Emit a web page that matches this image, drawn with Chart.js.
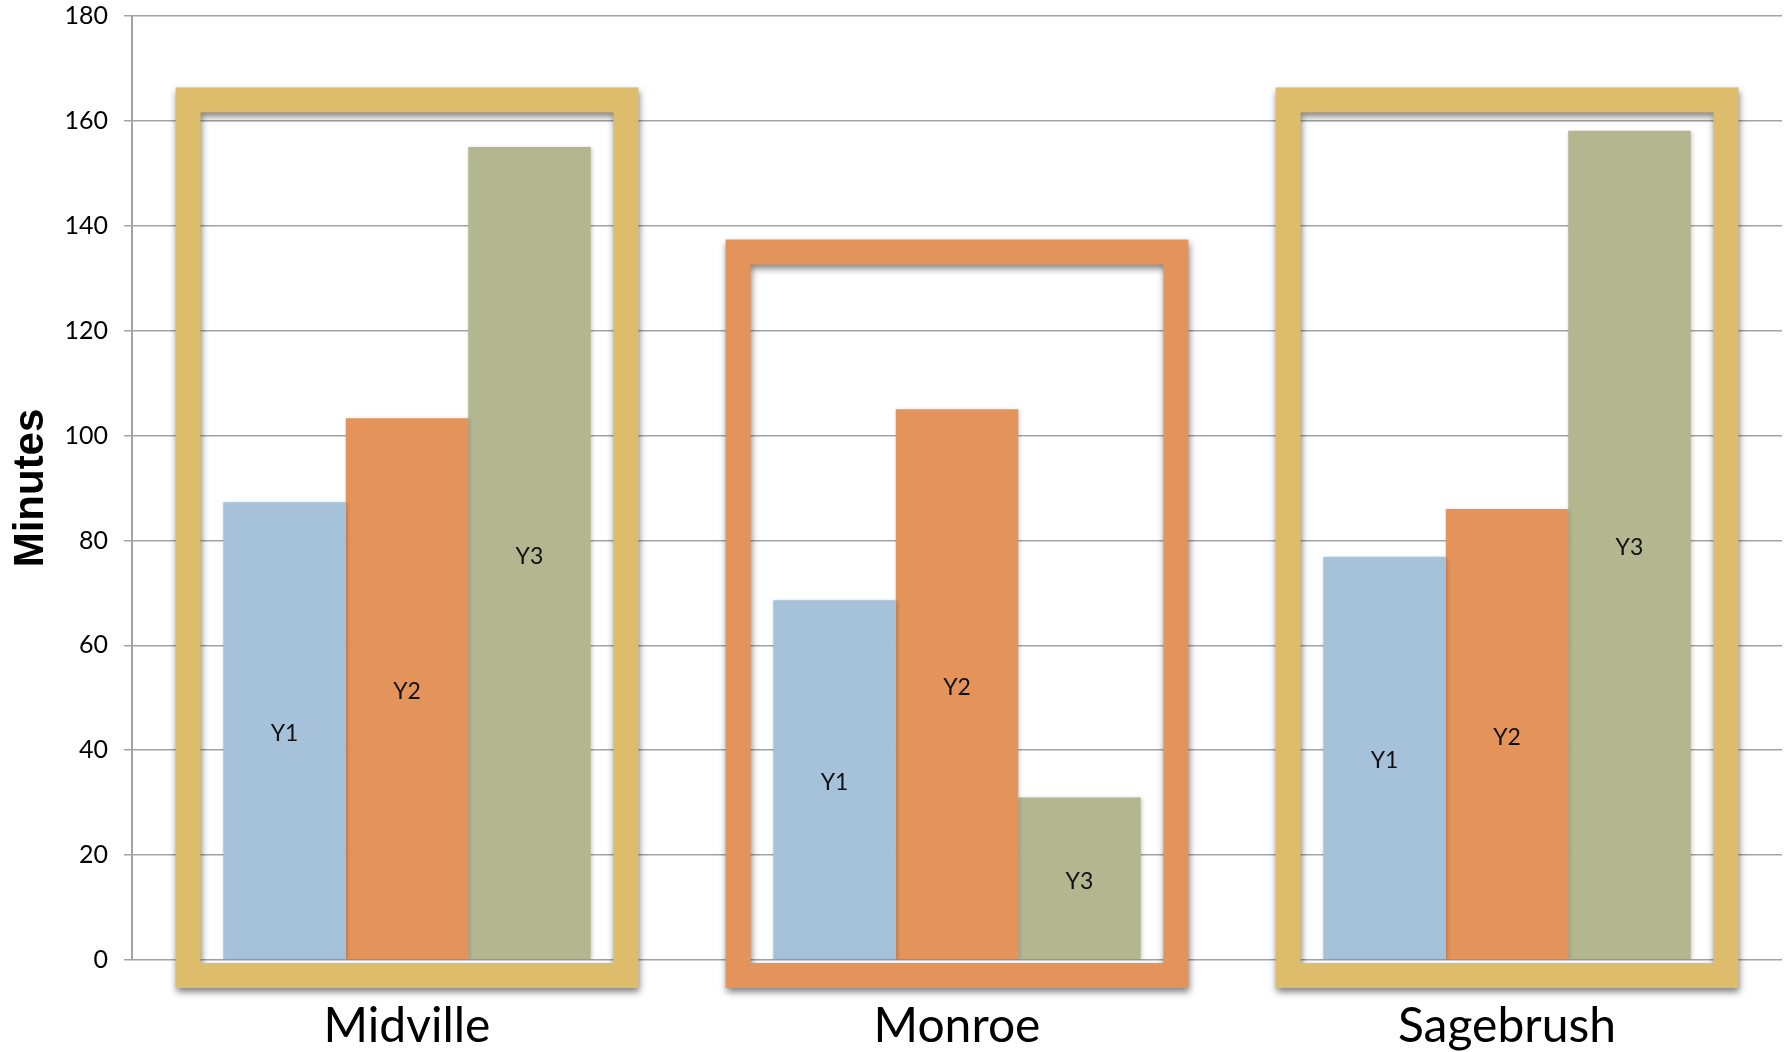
<!DOCTYPE html>
<html>
<head>
<meta charset="utf-8">
<script src="https://cdn.jsdelivr.net/npm/chart.js@4.4.1/dist/chart.umd.min.js"></script>
<style>
  html, body { margin: 0; padding: 0; background: #fff; }
  #wrap { width: 1787px; height: 1052px; position: relative; }
</style>
</head>
<body>
<div id="wrap"><canvas id="minutesChart"></canvas></div>
<script>
const towns = ["Midville", "Monroe", "Sagebrush"];
const seriesNames = ["Y1", "Y2", "Y3"];
const y1 = [87.3, 68.6, 76.9];
const y2 = [103.3, 105, 86];
const y3 = [155, 31, 158.1];
// top of each highlight box, in minutes
const frameTop = [164, 135, 164];
const yTicks = [0, 20, 40, 60, 80, 100, 120, 140, 160, 180];

const colors = {
  y1: "rgb(165, 194, 218)",
  y2: "rgb(228, 147, 90)",
  y3: "rgb(178, 183, 143)",
  gold: "rgb(221, 188, 108)",
  orange: "rgb(228, 147, 90)",
  grid: "#a3a3a3",
};
const frameColors = [colors.gold, colors.orange, colors.gold];
const FONT = "Lato, 'Noto Sans', sans-serif";

// soft shadow under the bars
const barShadow = {
  id: "barShadow",
  beforeDatasetsDraw(chart) {
    const ctx = chart.ctx;
    ctx.save();
    ctx.shadowColor = "rgba(0,0,0,0.22)";
    ctx.shadowBlur = 4;
    ctx.shadowOffsetX = 1;
    ctx.shadowOffsetY = 1;
  },
  afterDatasetsDraw(chart) {
    chart.ctx.restore();
  },
};

// boxes round each town + Y labels inside the bars
const frames = {
  id: "frames",
  afterDatasetsDraw(chart) {
    const ctx = chart.ctx;
    const x = chart.scales.x;
    const y = chart.scales.y;
    const catW = x.width / towns.length;
    const lw = 25;

    ctx.save();
    ctx.shadowColor = "rgba(0,0,0,0.5)";
    ctx.shadowBlur = 7;
    ctx.shadowOffsetX = 1;
    ctx.shadowOffsetY = 4;
    ctx.lineWidth = lw;
    ctx.lineJoin = "miter";
    towns.forEach((t, i) => {
      const cx = x.getPixelForValue(i);
      const w = catW * 0.796;
      const top = y.getPixelForValue(frameTop[i]);
      const bottom = y.getPixelForValue(0) + 15.5;
      ctx.strokeStyle = frameColors[i];
      ctx.strokeRect(cx - w / 2, top, w, bottom - top);
    });
    ctx.restore();

    ctx.save();
    ctx.fillStyle = "#111";
    ctx.font = "23px " + FONT;
    ctx.textAlign = "center";
    ctx.textBaseline = "middle";
    chart.data.datasets.forEach((ds, di) => {
      chart.getDatasetMeta(di).data.forEach((bar) => {
        ctx.fillText(seriesNames[di], bar.x, (bar.y + bar.base) / 2 + 3);
      });
    });
    ctx.restore();
  },
};

new Chart(document.getElementById("minutesChart").getContext("2d"), {
  type: "bar",
  data: {
    labels: towns,
    datasets: [
      { label: seriesNames[0], data: y1, backgroundColor: colors.y1 },
      { label: seriesNames[1], data: y2, backgroundColor: colors.y2 },
      { label: seriesNames[2], data: y3, backgroundColor: colors.y3 },
    ],
  },
  options: {
    responsive: true,
    maintainAspectRatio: false,
    animation: false,
    layout: { padding: { top: 16, right: 5, bottom: 0, left: 0 } },
    datasets: {
      bar: { barPercentage: 1, categoryPercentage: 0.668, borderWidth: 0 },
    },
    plugins: {
      legend: { display: false },
      tooltip: { enabled: false },
    },
    scales: {
      x: {
        grid: { display: false },
        border: { display: false },
        ticks: {
          color: "#000",
          font: { family: FONT, size: 48 },
          padding: 30,
        },
        afterFit(scale) {
          scale.height = 92;
          scale.paddingLeft = 0;
          scale.paddingRight = 0;
        },
      },
      y: {
        min: 0,
        max: 180,
        afterBuildTicks(scale) { scale.ticks = yTicks.map((v) => ({ value: v })); },
        ticks: {
          color: "#000",
          font: { family: FONT, size: 25 },
          padding: 16,
        },
        grid: { color: colors.grid, lineWidth: 1.5, tickLength: 8 },
        border: { color: colors.grid, width: 2 },
        title: {
          display: true,
          text: "Minutes",
          color: "#000",
          font: { family: "'Liberation Sans', Arial, sans-serif", size: 42, weight: "bold" },
          padding: { top: 6, bottom: 0 },
        },
        afterFit(scale) {
          scale.width = 132;
          scale.paddingTop = 0;
          scale.paddingBottom = 0;
        },
      },
    },
  },
  plugins: [barShadow, frames],
});
</script>
</body>
</html>
